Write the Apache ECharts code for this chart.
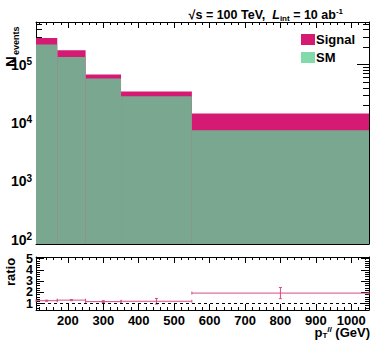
<!DOCTYPE html>
<html><head><meta charset="utf-8">
<script src="https://cdn.jsdelivr.net/npm/echarts@6/dist/echarts.min.js"></script>
<style>html,body{margin:0;padding:0;background:#fff}#c{width:373px;height:343px}</style>
</head><body><div id="c"></div>
<script>
// ---- data ----
const binEdges = [110, 170, 250, 350, 550, 1050];
const smEvents = [2.21e5, 1.36e5, 5.78e4, 2.87e4, 7.5e3];
const signalEvents = [6.6e4, 4.1e4, 9.8e3, 5.9e3, 7.0e3];
const ratioValues = [1.25, 1.30, 1.17, 1.20, 1.93];
const ratioErrors = [0.05, 0.05, 0.08, 0.25, 0.5];
const xTickLabels = [200, 300, 400, 500, 600, 700, 800, 900, 1000];
const yTickExponents = [2, 3, 4, 5];
const ratioTickLabels = [1, 2, 3, 4, 5];

// ---- ranges ----
const X_MIN = 110, X_MAX = 1050;
const Y_MIN = Math.log10(84), Y_MAX = Math.log10(5.4e5);
const R_MIN = 0.42, R_MAX = 5.15;

const FONT = 'Liberation Sans';
const PINK = '#d41a72';
const MINT = '#82d9ab';
const GREEN = '#7aa78f';

// minor tick positions
const xMinor = [];
for (let v = 120; v < X_MAX; v += 20) if (v % 100 !== 0) xMinor.push(v);
const yMinor = [];
for (let n = 1; n <= 5; n++) for (let k = 2; k <= 9; k++) {
  const l = Math.log10(k * Math.pow(10, n));
  if (l > Y_MIN && l < Y_MAX) yMinor.push(l);
}
const rMinor = [];
for (let v = 0.6; v < R_MAX; v += 0.2) { const r = Math.round(v * 10) / 10; if (Math.abs(r - Math.round(r)) > 1e-6) rMinor.push(r); }

function xAx(grid, pos, vals, len, label, line) {
  return {
    type: 'value', gridIndex: grid, position: pos, min: X_MIN, max: X_MAX,
    splitLine: { show: false },
    axisLine: { show: line, onZero: false, lineStyle: { color: '#000', width: 1 } },
    axisTick: { show: true, inside: true, length: len, customValues: vals, lineStyle: { color: '#000' } },
    axisLabel: label ? { show: true, customValues: vals, margin: 4, hideOverlap: false, formatter: v => String(v),
      color: '#000', fontFamily: FONT, fontWeight: 'bold', fontSize: 13 } : { show: false }
  };
}
function yAx(grid, pos, min, max, vals, len, label, line) {
  return {
    type: 'value', gridIndex: grid, position: pos, min: min, max: max,
    splitLine: { show: false },
    axisLine: { show: line, onZero: false, lineStyle: { color: '#000', width: 1 } },
    axisTick: { show: true, inside: true, length: len, customValues: vals, lineStyle: { color: '#000' } },
    axisLabel: label || { show: false }
  };
}

const mainYLabel = {
  show: true, customValues: yTickExponents, margin: 4, hideOverlap: false,
  formatter: v => '{b|10}{s|' + Math.round(v) + '}',
  rich: {
    b: { fontFamily: FONT, fontWeight: 'bold', fontSize: 14, color: '#000', lineHeight: 16 },
    s: { fontFamily: FONT, fontWeight: 'bold', fontSize: 10, color: '#000', verticalAlign: 'top', lineHeight: 16, padding: [0, 0, 7, 0] }
  }
};
function ratioLabel(vals) {
  return { show: true, customValues: vals, margin: 3, hideOverlap: false,
    fontFamily: FONT, fontWeight: 'bold', fontSize: 12.5, lineHeight: 10, color: '#000' };
}
const ratioOdd = ratioTickLabels.filter((v, i) => i % 2 === 0);
const ratioEven = ratioTickLabels.filter((v, i) => i % 2 === 1);

const xAxis = [
  xAx(0, 'bottom', xTickLabels, 10, false, true),
  xAx(0, 'bottom', xMinor, 5, false, false),
  xAx(0, 'top', xTickLabels, 6, false, true),
  xAx(0, 'top', xMinor, 3, false, false),
  xAx(1, 'bottom', xTickLabels, 6, true, true),
  xAx(1, 'bottom', xMinor, 3, false, false),
  xAx(1, 'top', xTickLabels, 6, false, true),
  xAx(1, 'top', xMinor, 3, false, false)
];
const yAxis = [
  yAx(0, 'left', Y_MIN, Y_MAX, yTickExponents, 12, mainYLabel, true),
  yAx(0, 'left', Y_MIN, Y_MAX, yMinor, 6, null, false),
  yAx(0, 'right', Y_MIN, Y_MAX, yTickExponents, 12, null, true),
  yAx(0, 'right', Y_MIN, Y_MAX, yMinor, 6, null, false),
  yAx(1, 'left', R_MIN, R_MAX, ratioTickLabels, 8, ratioLabel(ratioOdd), true),
  yAx(1, 'left', R_MIN, R_MAX, rMinor, 4, ratioLabel(ratioEven), false),
  yAx(1, 'right', R_MIN, R_MAX, ratioTickLabels, 8, null, true),
  yAx(1, 'right', R_MIN, R_MAX, rMinor, 4, null, false)
];

const totalData = smEvents.map((s, i) => [binEdges[i], binEdges[i + 1], Math.log10(s + signalEvents[i])]);
const smData = smEvents.map((s, i) => [binEdges[i], binEdges[i + 1], Math.log10(s)]);
const ratioData = ratioValues.map((r, i) => [binEdges[i], binEdges[i + 1], r, ratioErrors[i]]);

function barRenderer(fill) {
  return function (params, api) {
    const p0 = api.coord([api.value(0), api.value(2)]);
    const p1 = api.coord([api.value(1), Y_MIN]);
    return { type: 'rect', shape: { x: p0[0], y: p0[1], width: p1[0] - p0[0], height: p1[1] - p0[1] }, style: { fill: fill } };
  };
}
function ratioRenderer(params, api) {
  const x0 = api.value(0), x1 = api.value(1), r = api.value(2), e = api.value(3);
  const xc = (x0 + x1) / 2;
  const a = api.coord([x0, r]), b = api.coord([x1, r]);
  const lo = api.coord([xc, r - e]), hi = api.coord([xc, r + e]);
  const col = '#d84a84';
  const s = { stroke: col, lineWidth: 1 };
  return { type: 'group', children: [
    { type: 'line', shape: { x1: a[0], y1: a[1], x2: b[0], y2: b[1] }, style: s },
    { type: 'line', shape: { x1: lo[0], y1: lo[1], x2: hi[0], y2: hi[1] }, style: s },
    { type: 'line', shape: { x1: lo[0] - 1.5, y1: lo[1], x2: lo[0] + 1.5, y2: lo[1] }, style: s },
    { type: 'line', shape: { x1: hi[0] - 1.5, y1: hi[1], x2: hi[0] + 1.5, y2: hi[1] }, style: s },
    { type: 'line', shape: { x1: a[0], y1: a[1] - 1.5, x2: a[0], y2: a[1] + 1.5 }, style: s },
    { type: 'line', shape: { x1: b[0], y1: b[1] - 1.5, x2: b[0], y2: b[1] + 1.5 }, style: s }
  ] };
}

const chart = echarts.init(document.getElementById('c'), null, { renderer: 'svg' });
chart.setOption({
  animation: false,
  backgroundColor: '#fff',
  grid: [
    { left: 36, right: 4, top: 22, height: 222, outerBoundsMode: 'none', containLabel: false },
    { left: 36, right: 4, top: 257, height: 53, outerBoundsMode: 'none', containLabel: false }
  ],
  xAxis: xAxis,
  yAxis: yAxis,
  title: {
    text: '{a|√s = 100 TeV,  }{l|L}{sub|int}{a| = 10 ab}{sup|-1}',
    right: 25, top: 2,
    textStyle: {
      rich: {
        a: { fontFamily: FONT, fontWeight: 'bold', fontSize: 12.5, color: '#000', lineHeight: 15 },
        l: { fontFamily: FONT, fontWeight: 'bold', fontStyle: 'italic', fontSize: 12.5, color: '#000', lineHeight: 15 },
        sub: { fontFamily: FONT, fontWeight: 'bold', fontSize: 8, color: '#000', verticalAlign: 'bottom', lineHeight: 15, padding: [4, 0, 0, 0] },
        sup: { fontFamily: FONT, fontWeight: 'bold', fontSize: 8, color: '#000', verticalAlign: 'top', lineHeight: 15, padding: [0, 0, 5, 0] }
      }
    }
  },
  legend: {
    data: ['Signal', 'SM'], orient: 'vertical', left: 296, top: 28, itemGap: 5,
    itemWidth: 14, itemHeight: 11, icon: 'rect', selectedMode: false,
    textStyle: { fontFamily: FONT, fontWeight: 'bold', fontSize: 13, color: '#000', padding: [0, 0, 0, -4] }
  },
  graphic: [
    { type: 'text', x: 3, y: 67, rotation: Math.PI / 2,
      style: { text: 'N', fontSize: 15, fontWeight: 'bold', fontFamily: FONT, fill: '#000' } },
    { type: 'text', x: 11, y: 55, rotation: Math.PI / 2,
      style: { text: 'events', fontSize: 9, fontWeight: 'bold', fontFamily: FONT, fill: '#000' } },
    { type: 'text', x: 4, y: 286, rotation: Math.PI / 2,
      style: { text: 'ratio', fontSize: 13, fontWeight: 'bold', fontFamily: FONT, fill: '#000' } },
    { type: 'text', right: 3, top: 325,
      style: { text: '{p|p}{t|T}{a|ll}{g| (GeV)}',
        rich: { p: { fontFamily: FONT, fontWeight: 'bold', fontSize: 13, fill: '#000' },
                t: { fontFamily: FONT, fontWeight: 'bold', fontSize: 8, fill: '#000', verticalAlign: 'bottom', padding: [6, 0, 0, 0] },
                a: { fontFamily: FONT, fontWeight: 'bold', fontStyle: 'italic', fontSize: 8, fill: '#000', verticalAlign: 'top', padding: [0, 0, 6, 0] },
                g: { fontFamily: FONT, fontWeight: 'bold', fontSize: 13, fill: '#000' } } } }
  ],
  series: [
    { name: 'Signal', type: 'custom', xAxisIndex: 0, yAxisIndex: 0, itemStyle: { color: PINK },
      renderItem: barRenderer(PINK), data: totalData, encode: { x: [0, 1], y: 2 }, z: 3 },
    { name: 'SM', type: 'custom', xAxisIndex: 0, yAxisIndex: 0, itemStyle: { color: MINT },
      renderItem: barRenderer(GREEN), data: smData, encode: { x: [0, 1], y: 2 }, z: 4 },
    { name: 'ratio', type: 'custom', xAxisIndex: 4, yAxisIndex: 4, renderItem: ratioRenderer,
      data: ratioData, encode: { x: [0, 1], y: 2 }, z: 4,
      markLine: { silent: true, symbol: 'none', label: { show: false },
        lineStyle: { color: '#000', type: [3, 3], width: 1 }, data: [{ yAxis: 1 }] } }
  ]
});
</script></body></html>
